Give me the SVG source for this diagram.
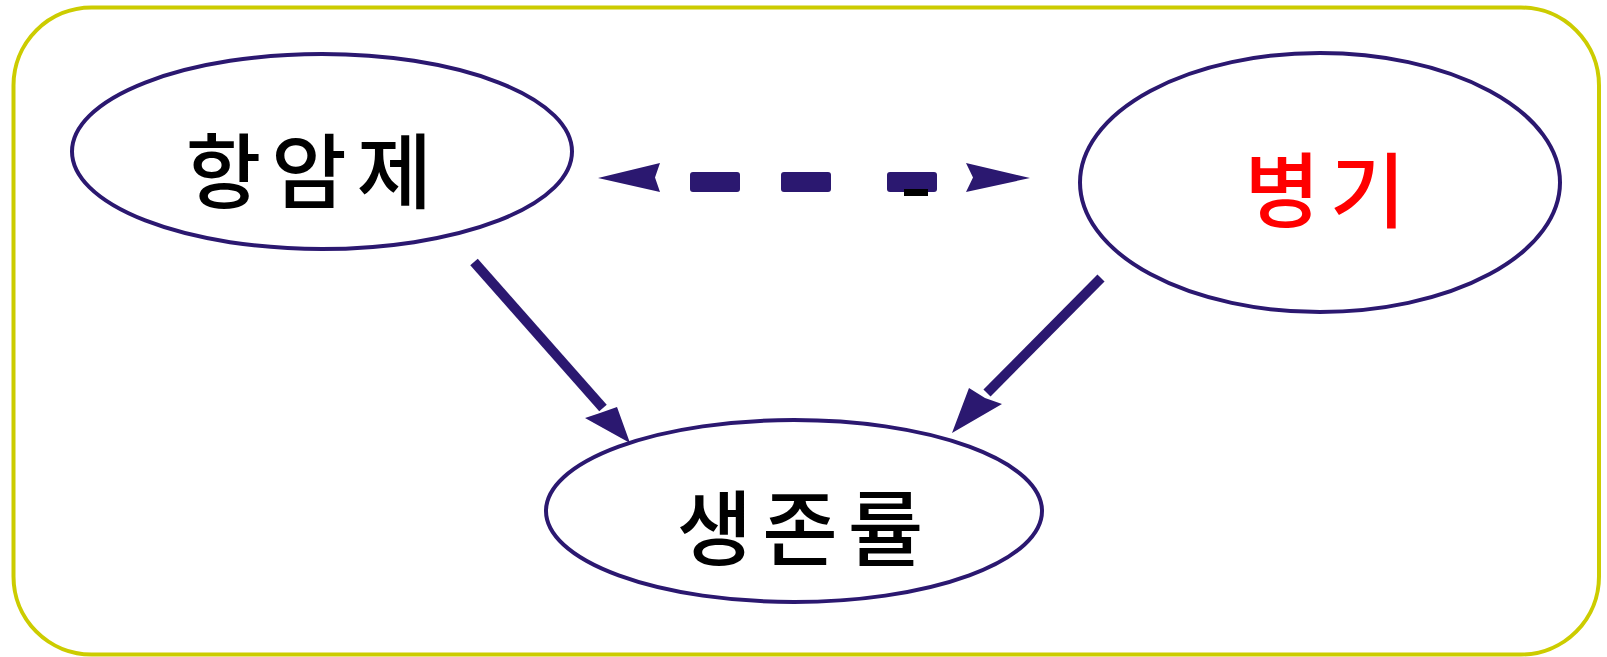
<svg xmlns="http://www.w3.org/2000/svg" width="1607" height="657" viewBox="0 0 1607 657">
  <style>
    .node { fill: #FFFFFF; stroke: #2B1870; stroke-width: 4; }
    .label { font-family: "Noto Sans CJK KR", "Noto Sans", sans-serif; font-size: 82px; font-weight: 500; letter-spacing: 10px; text-anchor: middle; }
    .conn { stroke: #2B1870; stroke-width: 10; fill: none; }
    .head { fill: #2B1870; }
    .dash { fill: #2B1870; }
  </style>
  <rect width="1607" height="657" fill="#FFFFFF"/>
  <rect id="frame" x="13.5" y="7.5" width="1585.5" height="647" rx="78" ry="78" fill="none" stroke="#CCCC00" stroke-width="4"/>

  <g id="node-hangamje">
    <ellipse class="node" cx="322" cy="151.5" rx="250" ry="97.5"/>
    <text class="label" x="314" y="202" fill="#000000">항암제</text>
  </g>
  <g id="node-byeonggi">
    <ellipse class="node" cx="1320" cy="182.5" rx="240" ry="129.5"/>
    <text class="label" x="1330" y="221" fill="#FF0000">병기</text>
  </g>
  <g id="node-saengjonryul">
    <ellipse class="node" cx="794" cy="511" rx="248" ry="91"/>
    <text class="label" x="805" y="559" fill="#000000">생존률</text>
  </g>

  <g id="connectors">
    <line class="conn" x1="474" y1="262" x2="603" y2="408"/>
    <polygon class="head" points="630,443 585,418 600,413 617,407"/>
    <line class="conn" x1="1101" y1="278" x2="987" y2="393"/>
    <polygon class="head" points="952,433 969,388 985,398 1002,404"/>
    <polygon class="head" points="598,178 660,163 655,177.5 660,192"/>
    <rect class="dash" x="690" y="172" width="50" height="20" rx="3"/>
    <rect class="dash" x="781" y="172" width="50" height="20" rx="3"/>
    <rect class="dash" x="887" y="172" width="50" height="20" rx="3"/>
    <rect x="904" y="189" width="24" height="7" fill="#000000"/>
    <polygon class="head" points="1030,178 966,163 973,177.5 966,192"/>
  </g>
</svg>
